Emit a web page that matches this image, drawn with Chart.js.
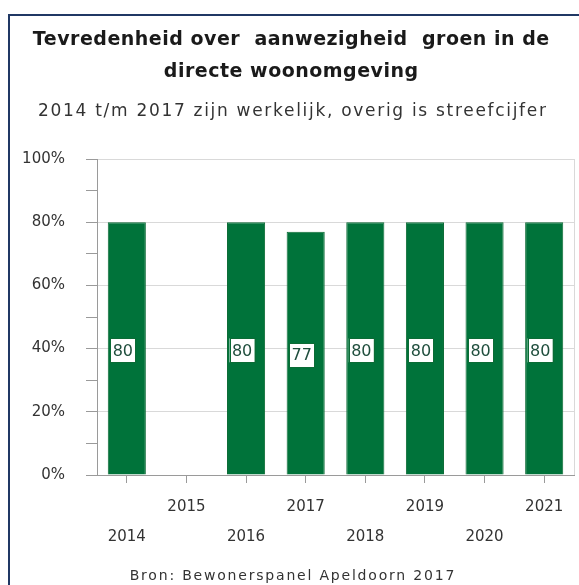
<!DOCTYPE html>
<html>
<head>
<meta charset="utf-8">
<script src="https://cdn.jsdelivr.net/npm/chart.js@4/dist/chart.umd.min.js"></script>
<style>
  html, body { margin: 0; padding: 0; background: #ffffff; }
  canvas { display: block; }
</style>
</head>
<body>
<canvas id="groenChart" width="579" height="585"></canvas>
<script>
// Data
const years = ['2014', '2015', '2016', '2017', '2018', '2019', '2020', '2021'];
const tevredenheid = [80, null, 80, 77, 80, 80, 80, 80];
const yTicks = [0, 20, 40, 60, 80, 100];

const titleLines = ['Tevredenheid over  aanwezigheid  groen in de', 'directe woonomgeving'];
const subtitleText = '2014 t/m 2017 zijn werkelijk, overig is streefcijfer';
const footerText = 'Bron: Bewonerspanel Apeldoorn 2017';

const FONT = "'DejaVu Sans', Verdana, sans-serif";

// x labels alternate between two rows (odd years on top row)
const staggeredLabels = years.map((y, i) => i % 2 === 0 ? ['', y] : [y, '']);

function spacedText(c, text, x, y, font, color, spacing) {
    c.save();
    c.font = font;
    c.fillStyle = color;
    c.textAlign = 'center';
    c.textBaseline = 'middle';
    c.letterSpacing = spacing + 'px';
    c.fillText(text, x + spacing / 2, y);
    c.restore();
}

// frame round the picture, titles and footer
const framePlugin = {
    id: 'frame',
    beforeDraw(chart) {
        const c = chart.ctx;
        c.save();
        c.strokeStyle = '#203864';
        c.lineWidth = 2;
        c.beginPath();
        c.moveTo(9, chart.height);
        c.lineTo(9, 15);
        c.lineTo(chart.width, 15);
        c.stroke();
        c.restore();

        spacedText(c, titleLines[0], 291, 40, 'bold 19px ' + FONT, '#1a1a1a', 0.5);
        spacedText(c, titleLines[1], 291, 72, 'bold 19px ' + FONT, '#1a1a1a', 0.5);
        spacedText(c, subtitleText, 292, 112, '17px ' + FONT, '#333333', 1.7);
        spacedText(c, footerText, 292, 576, '14px ' + FONT, '#333333', 1.8);
    },
    beforeDatasetsDraw(chart) {
        const a = chart.chartArea;
        const c = chart.ctx;
        c.save();
        c.strokeStyle = '#d9d9d9';
        c.lineWidth = 1;
        c.beginPath();
        c.moveTo(Math.round(a.right) + 0.5, a.top);
        c.lineTo(Math.round(a.right) + 0.5, a.bottom);
        c.stroke();
        c.restore();
    }
};

// value boxes in the middle of each bar
const valueBoxPlugin = {
    id: 'valueBox',
    afterDatasetsDraw(chart) {
        const c = chart.ctx;
        const meta = chart.getDatasetMeta(0);
        c.save();
        c.font = '16px ' + FONT;
        c.textAlign = 'center';
        c.textBaseline = 'middle';
        meta.data.forEach((bar, i) => {
            const v = tevredenheid[i];
            if (v === null) return;
            const cx = bar.x - 4;
            const cy = (bar.y + bar.base) / 2 + 2;
            const w = 25, h = 24;
            c.fillStyle = '#ffffff';
            c.fillRect(cx - w / 2, cy - h / 2, w, h);
            c.strokeStyle = '#0b6b35';
            c.lineWidth = 1;
            c.strokeRect(Math.round(cx - w / 2) + 0.5, Math.round(cy - h / 2) + 0.5, w, h);
            c.fillStyle = '#1f4e3d';
            c.fillText(String(v), cx, cy + 1);
        });
        c.restore();
    }
};

new Chart(document.getElementById('groenChart').getContext('2d'), {
    type: 'bar',
    data: {
        labels: staggeredLabels,
        datasets: [{
            data: tevredenheid,
            backgroundColor: '#00733a',
            borderColor: '#0b6b35',
            borderWidth: 1,
            categoryPercentage: 0.9,
            barPercentage: 0.71
        }]
    },
    options: {
        responsive: false,
        animation: false,
        layout: {
            padding: { top: 159, right: 5, bottom: 33, left: 0 }
        },
        plugins: {
            legend: { display: false },
            tooltip: { enabled: false },
            title: { display: false }
        },
        scales: {
            x: {
                afterFit(scale) { scale.height = 77; },
                grid: {
                    display: true,
                    drawOnChartArea: false,
                    drawTicks: true,
                    offset: false,
                    tickLength: 8,
                    tickColor: '#9a9a9a'
                },
                border: { color: '#9a9a9a' },
                ticks: {
                    autoSkip: false,
                    maxRotation: 0,
                    minRotation: 0,
                    padding: 9,
                    color: '#333333',
                    font: { family: FONT, size: 15, lineHeight: 2 }
                }
            },
            y: {
                min: 0,
                max: 100,
                afterFit(scale) { scale.width = 97; },
                grid: {
                    color: ctx => yTicks.includes(ctx.tick ? ctx.tick.value : -1) ? '#d9d9d9' : 'rgba(0,0,0,0)',
                    tickColor: '#9a9a9a',
                    tickLength: 11
                },
                border: { color: '#9a9a9a' },
                ticks: {
                    stepSize: 10,
                    padding: 21,
                    color: '#333333',
                    font: { family: FONT, size: 15 },
                    callback: value => yTicks.includes(value) ? value + '%' : ''
                }
            }
        }
    },
    plugins: [framePlugin, valueBoxPlugin]
});
</script>
</body>
</html>
